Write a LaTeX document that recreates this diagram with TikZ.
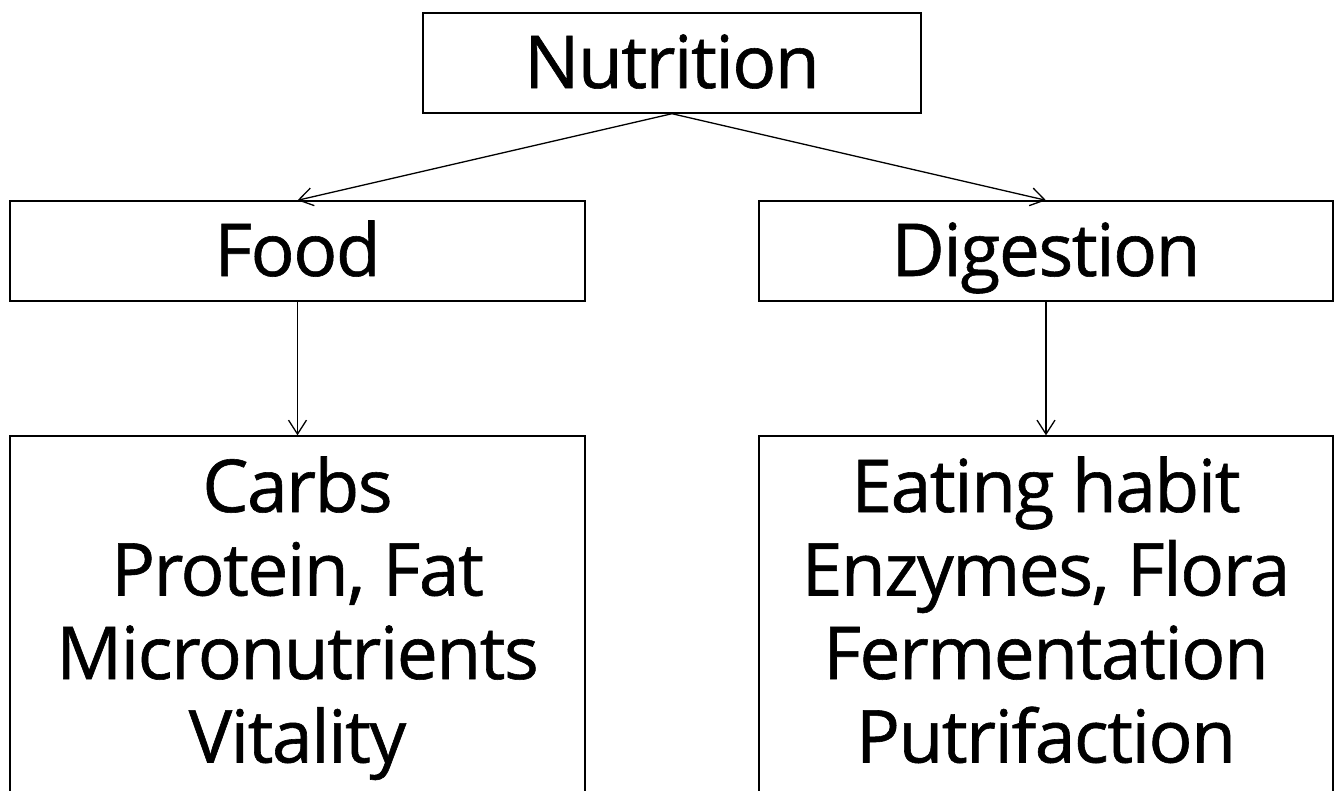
\documentclass[tikz,border=0pt]{standalone}
\usepackage{fontspec}
\setmainfont{Open Sans}[LetterSpace=-2, FakeBold=0.8]
\usetikzlibrary{arrows.meta}
\newcommand\lnstrut{\rule[-20pt]{0pt}{80pt}}
\tikzset{
  box/.style={draw=black, line width=1.4pt, rectangle, inner sep=0pt, align=center,
    font=\fontsize{73}{83.5}\selectfont},
  onebox/.style={box, text height=50pt, text depth=0pt},
  conn/.style={line width=1.3pt, -{Straight Barb[length=14pt,width=18pt,line width=1.3pt]}}
}
\begin{document}
\begin{tikzpicture}[x=1pt,y=-1pt]
\useasboundingbox (0,0) rectangle (1335,790);
\clip (0,0) rectangle (1335,790);
\node[onebox, minimum width=498pt, minimum height=100pt] (nut) at (672,63) {Nutrition};
\node[onebox, minimum width=575pt, minimum height=100pt] (food) at (297.5,251) {Food};
\node[onebox, minimum width=574pt, minimum height=100pt] (dig) at (1046,251) {Digestion};
\node[box, minimum width=575pt, minimum height=362.5pt] (fl) at (297.5,617.25)
  {\lnstrut Carbs\\\lnstrut Protein, Fat\\\lnstrut Micronutrients\\\lnstrut Vitality};
\node[box, minimum width=574pt, minimum height=362.5pt] (dl) at (1046,617.25)
  {\lnstrut Eating habit\\\lnstrut Enzymes, Flora\\\lnstrut Fermentation\\\lnstrut Putrifaction};
\draw[conn] (nut.south) -- (food.north);
\draw[conn] (nut.south) -- (dig.north);
\draw[conn] (food.south) -- (fl.north);
\draw[conn] (dig.south) -- (dl.north);
\end{tikzpicture}
\end{document}
